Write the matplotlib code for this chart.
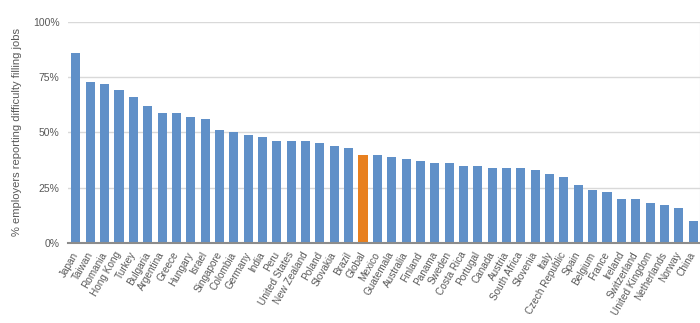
import matplotlib
matplotlib.use("Agg")
import matplotlib.pyplot as plt
from matplotlib.ticker import PercentFormatter

plt.rcParams['font.family'] = ['Liberation Sans', 'DejaVu Sans']

# Share of employers reporting difficulty filling jobs, by country
countries = ["Japan", "Taiwan", "Romania", "Hong Kong", "Turkey", "Bulgaria", "Argentina",
             "Greece", "Hungary", "Israel", "Singapore", "Colombia", "Germany", "India", "Peru",
             "United States", "New Zealand", "Poland", "Slovakia", "Brazil", "Global", "Mexico",
             "Guatemala", "Australia", "Finland", "Panama", "Sweden", "Costa Rica", "Portugal",
             "Canada", "Austria", "South Africa", "Slovenia", "Italy", "Czech Republic", "Spain",
             "Belgium", "France", "Ireland", "Switzerland", "United Kingdom", "Netherlands",
             "Norway", "China"]
values = [86, 73, 72, 69, 66, 62, 59, 59, 57, 56, 51, 50, 49, 48, 46, 46, 46, 45, 44, 43,
          40, 40, 39, 38, 37, 36, 36, 35, 35, 34, 34, 34, 33, 31, 30, 26, 24, 23, 20, 20,
          18, 17, 16, 10]

blue = "#6090c8"
orange = "#e8801f"
colors = [orange if c == "Global" else blue for c in countries]

fig = plt.figure(figsize=(7, 3.23), dpi=100)
ax = fig.add_axes([0.097, 0.248, 0.903, 0.684])

x = range(len(countries))
ax.bar(x, values, width=0.63, color=colors, zorder=3)

ax.set_ylim(0, 100)
ax.set_xlim(-0.56, 43.48)
ax.set_yticks([0, 25, 50, 75, 100])
ax.yaxis.set_major_formatter(PercentFormatter(decimals=0))
ax.grid(axis='y', color="#d9d9d9", linewidth=1, zorder=0)

ax.set_xticks(list(x))
ax.set_xticklabels(countries, rotation=60, ha='right', va='center',
                   rotation_mode='anchor', fontsize=7.2, color="#595959")
ax.tick_params(axis='y', labelsize=7.5, labelcolor="#595959", length=0, pad=6)
ax.tick_params(axis='x', length=0, pad=7)

for s in ['top', 'left']:
    ax.spines[s].set_visible(False)
ax.spines['right'].set_color("#d9d9d9")
ax.spines['bottom'].set_color("#8c8c8c")
ax.spines['bottom'].set_linewidth(1.5)
ax.spines['bottom'].set_zorder(4)

ax.set_ylabel("% employers reporting difficulty filling jobs", fontsize=8, color="#595959", labelpad=8)

plt.savefig("out.png", dpi=100)
